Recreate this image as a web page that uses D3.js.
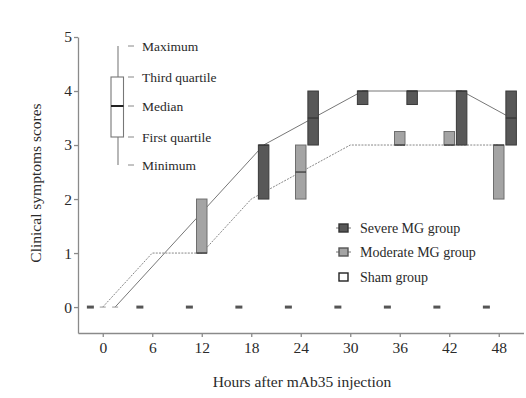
<!DOCTYPE html>
<html><head><meta charset="utf-8">
<script src="https://cdn.jsdelivr.net/npm/d3@7"></script>
<style>body{margin:0;background:#fff;}svg text{font-family:"Liberation Serif","Times New Roman",serif !important;}</style>
</head><body>
<svg id="c" width="526" height="398"></svg>
<script>
const hours = [0, 6, 12, 18, 24, 30, 36, 42, 48];
const xTicks = [0, 6, 12, 18, 24, 30, 36, 42, 48];
const yTicks = [0, 1, 2, 3, 4, 5];
const severeMedian = [0, 1, 2, 3, 3.5, 4, 4, 4, 3.5];
const severeQ1     = [0, 1, 2, 2, 3, 3.75, 3.75, 3, 3];
const severeQ3     = [0, 1, 2, 3, 4, 4, 4, 4, 4];
const moderateMedian = [0, 1, 1, 2, 2.5, 3, 3, 3, 3];
const moderateQ1     = [0, 1, 1, 2, 2, 3, 3, 3, 2];
const moderateQ3     = [0, 1, 2, 2, 3, 3, 3.25, 3.25, 3];
const shamMedian = [0, 0, 0, 0, 0, 0, 0, 0, 0];
const legendLabels = ["Severe MG group", "Moderate MG group", "Sham group"];
const boxKeyLabels = ["Maximum", "Third quartile", "Median", "First quartile", "Minimum"];

const svg = d3.select("#c");
const x = d3.scaleLinear().domain([-3, 51]).range([78, 523.5]);
const y = d3.scaleLinear().domain([-0.48, 5]).range([333, 37]);

const axisColor = "#8a8a8a";
const gx = svg.append("g").attr("transform", "translate(0,333)")
  .call(d3.axisBottom(x).tickValues(xTicks).tickSize(4).tickSizeOuter(0).tickPadding(5).tickFormat(d3.format("d")));
const gy = svg.append("g").attr("transform", "translate(78,0)")
  .call(d3.axisLeft(y).tickValues(yTicks).tickSize(4).tickSizeOuter(0).tickPadding(2).tickFormat(d3.format("d")));
[gx, gy].forEach(g => {
  g.attr("font-family", null);
  g.selectAll("path,line").attr("stroke", axisColor).attr("stroke-width", 1.3);
  g.selectAll("text").attr("font-size", 15.5).attr("fill", "#2a2a2a");
});

svg.append("text").attr("x", 302).attr("y", 387).attr("text-anchor", "middle")
  .attr("font-size", 15.5).attr("fill", "#2a2a2a").text("Hours after mAb35 injection");
svg.append("text").attr("transform", "translate(41,183) rotate(-90)").attr("text-anchor", "middle")
  .attr("font-size", 15.5).attr("fill", "#2a2a2a").text("Clinical symptoms scores");

const groups = [
  {off: 1.5, med: severeMedian, q1: severeQ1, q3: severeQ3, fill: "#585858", stroke: "#3a3a3a", line: "#777", dash: null},
  {off: 0, med: moderateMedian, q1: moderateQ1, q3: moderateQ3, fill: "#a4a4a4", stroke: "#6e6e6e", line: "#888", dash: "2,1.2"}
];

// median lines
groups.forEach(g => {
  const data = hours.map((h, i) => [h + g.off, g.med[i]]);
  svg.append("path").datum(data)
    .attr("d", d3.line().x(d => x(d[0])).y(d => y(d[1])))
    .attr("fill", "none").attr("stroke", g.line).attr("stroke-width", 1)
    .attr("stroke-dasharray", g.dash);
});

// boxes
const bw = 10.5;
groups.forEach(g => {
  hours.forEach((h, i) => {
    if (g.q3[i] > g.q1[i]) {
      svg.append("rect").attr("x", x(h + g.off) - bw / 2).attr("y", y(g.q3[i]))
        .attr("width", bw).attr("height", y(g.q1[i]) - y(g.q3[i]))
        .attr("fill", g.fill).attr("stroke", g.stroke).attr("stroke-width", 1);
      svg.append("line").attr("x1", x(h + g.off) - bw / 2).attr("x2", x(h + g.off) + bw / 2)
        .attr("y1", y(g.med[i])).attr("y2", y(g.med[i])).attr("stroke", "#333").attr("stroke-width", 1.2);
    }
  });
});

// sham dashes
hours.forEach((h, i) => {
  svg.append("line").attr("x1", x(h - 1.5) - 3.5).attr("x2", x(h - 1.5) + 3.5)
    .attr("y1", y(shamMedian[i])).attr("y2", y(shamMedian[i]))
    .attr("stroke", "#555").attr("stroke-width", 3);
});

// small zero marks at start
groups.forEach(g => {
  svg.append("line").attr("x1", x(0 + g.off) - 3).attr("x2", x(0 + g.off) + 3)
    .attr("y1", y(0)).attr("y2", y(0)).attr("stroke", "#999").attr("stroke-width", 1);
});

// legend
const legFills = [["#585858", "#333"], ["#a4a4a4", "#555"], ["#fff", "#222"]];
const legY = [228, 252, 277];
legendLabels.forEach((t, i) => {
  const cy = legY[i];
  if (i < 2) svg.append("line").attr("x1", 336).attr("x2", 351).attr("y1", cy).attr("y2", cy)
    .attr("stroke", "#777").attr("stroke-width", 1);
  svg.append("rect").attr("x", 339).attr("y", cy - 4).attr("width", 9).attr("height", 8)
    .attr("fill", legFills[i][0]).attr("stroke", legFills[i][1]).attr("stroke-width", 1.4);
  svg.append("text").attr("x", 360).attr("y", cy + 4.5).attr("font-size", 14).attr("fill", "#2a2a2a").text(t);
});

// box key
const keyY = [46, 77, 106, 137, 165];
svg.append("line").attr("x1", 118).attr("x2", 118).attr("y1", keyY[0]).attr("y2", keyY[4])
  .attr("stroke", "#888").attr("stroke-width", 1.2);
svg.append("rect").attr("x", 111).attr("y", keyY[1]).attr("width", 12.5).attr("height", keyY[3] - keyY[1])
  .attr("fill", "#fff").attr("stroke", "#777").attr("stroke-width", 1.1);
svg.append("line").attr("x1", 111).attr("x2", 123.5).attr("y1", keyY[2]).attr("y2", keyY[2])
  .attr("stroke", "#222").attr("stroke-width", 2);
boxKeyLabels.forEach((t, i) => {
  svg.append("line").attr("x1", 128).attr("x2", 134).attr("y1", keyY[i]).attr("y2", keyY[i])
    .attr("stroke", "#888").attr("stroke-width", 1);
  svg.append("text").attr("x", 142).attr("y", keyY[i] + 4.5).attr("font-size", 13.5).attr("fill", "#2a2a2a").text(t);
});
</script>
</body></html>
